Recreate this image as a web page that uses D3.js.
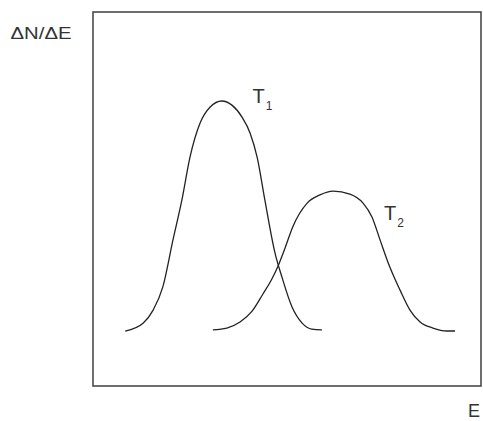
<!DOCTYPE html>
<html>
<head>
<meta charset="utf-8">
<script src="https://cdn.jsdelivr.net/npm/d3@7"></script>
<style>
  html, body { margin: 0; padding: 0; background: #fff; }
  svg { display: block; }
  text { font-family: "Liberation Sans", Arial, sans-serif; fill: #333; }
</style>
</head>
<body>
<svg id="chart" width="483" height="421"></svg>
<script>
// Energy distribution curves at two temperatures (arbitrary units, 0-100 on both axes)
const t1Energy = [8.3, 12.9, 15.5, 18.0, 20.6, 22.9, 25.0, 27.6, 30.2, 33.2, 35.8, 38.4, 40.5, 42.3, 44.3, 46.9, 48.7, 51.3, 53.9, 56.4, 59.0];
const t1Count  = [14.7, 16.8, 20.3, 26.5, 39.0, 49.7, 61.2, 70.3, 74.6, 76.2, 75.1, 71.9, 67.6, 61.2, 49.7, 35.6, 29.1, 21.1, 16.8, 15.2, 15.0];

const t2Energy = [30.9, 34.5, 37.9, 41.0, 43.8, 46.1, 47.7, 49.5, 51.5, 55.2, 58.5, 61.9, 66.2, 69.6, 71.9, 74.0, 76.5, 79.1, 81.7, 84.3, 87.6, 91.2, 93.3];
const t2Count  = [15.0, 15.5, 17.1, 20.0, 24.6, 28.6, 32.1, 36.9, 42.6, 48.9, 51.1, 52.1, 51.3, 48.9, 45.2, 39.0, 31.8, 25.7, 20.3, 17.1, 15.5, 14.7, 14.7];

const curveNames = ["1", "2"];
const yLabel = "ΔN/ΔE";
const xLabel = "E";

const svg = d3.select("#chart");
const plot = { left: 93, right: 481, top: 12, bottom: 386 };

const x = d3.scaleLinear().domain([0, 100]).range([plot.left, plot.right]);
const y = d3.scaleLinear().domain([0, 100]).range([plot.bottom, plot.top]);

// Frame
svg.append("rect")
  .attr("x", x(0)).attr("y", y(100))
  .attr("width", x(100) - x(0)).attr("height", y(0) - y(100))
  .attr("fill", "none")
  .attr("stroke", "#4a4a4a")
  .attr("stroke-width", 1.6);

// Curves
const line = d3.line()
  .x(d => x(d[0]))
  .y(d => y(d[1]))
  .curve(d3.curveMonotoneX);

const series = [
  d3.zip(t1Energy, t1Count),
  d3.zip(t2Energy, t2Count)
];

svg.append("g")
  .selectAll("path")
  .data(series)
  .join("path")
  .attr("d", line)
  .attr("fill", "none")
  .attr("stroke", "#222")
  .attr("stroke-width", 1.3);

// Curve labels T1, T2
const labelPos = [[41.1, 75.6], [75.0, 44.3]];
labelPos.forEach((p, i) => {
  const t = svg.append("text")
    .attr("x", x(p[0]))
    .attr("y", y(p[1]))
    .attr("font-size", 20);
  t.append("tspan").text("T");
  t.append("tspan")
    .attr("font-size", 12)
    .attr("dx", 1)
    .attr("dy", 7)
    .text(curveNames[i]);
});

// Axis labels
svg.append("text")
  .attr("x", 10.5)
  .attr("y", 38.5)
  .attr("font-size", 16)
  .attr("textLength", 61)
  .attr("lengthAdjust", "spacingAndGlyphs")
  .text(yLabel);

svg.append("text")
  .attr("x", 468)
  .attr("y", 417)
  .attr("font-size", 18)
  .text(xLabel);
</script>
</body>
</html>
